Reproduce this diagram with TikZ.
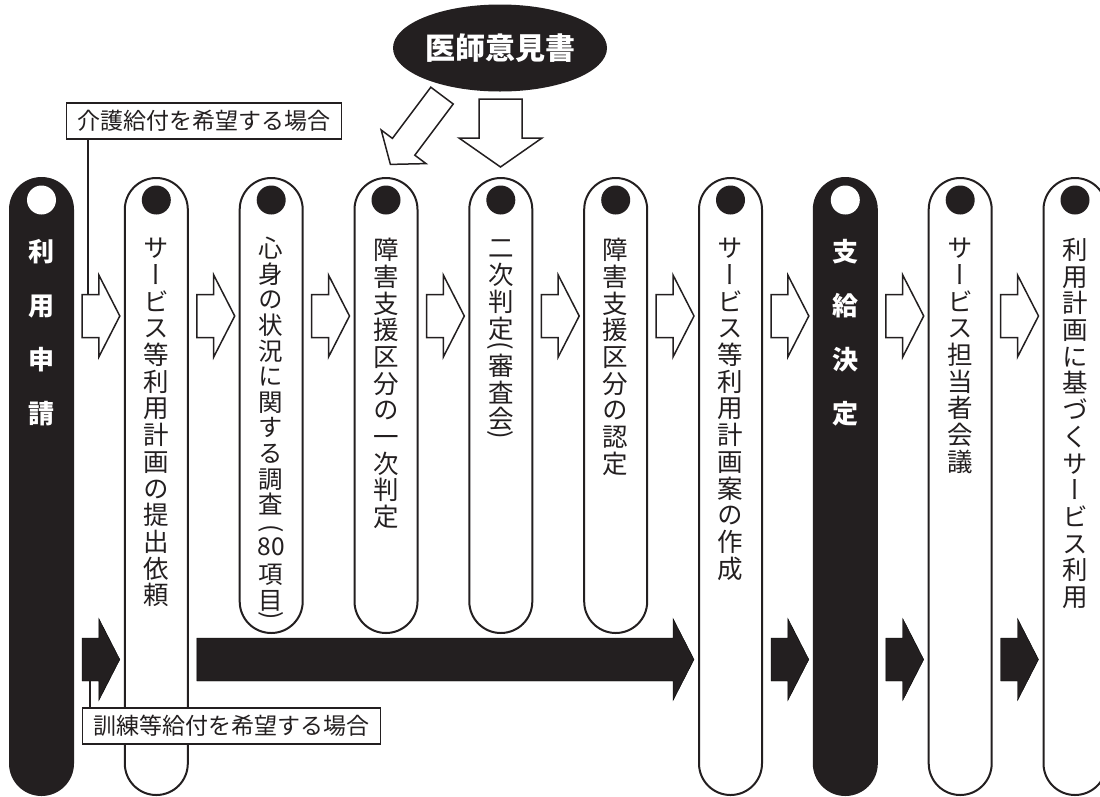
\documentclass[tikz,border=0pt]{standalone}
\usepackage{graphicx}
\usepackage{fontspec}
\setmainfont{Noto Sans CJK JP}
\newfontfamily\jp{Noto Sans CJK JP}
\newfontfamily\vjp[RawFeature=+vert]{Noto Sans CJK JP}
\usetikzlibrary{shapes.geometric,calc}
\definecolor{ink}{RGB}{35,31,32}
\newcommand\vlp{\smash{\rotatebox{-90}{\jp(}}}
\newcommand\vrp{\smash{\rotatebox{-90}{\jp)}}}
\tikzset{
 pill/.style={draw=ink, line width=2pt, fill=white, rounded corners=31.5pt, minimum width=63pt, anchor=north, inner sep=0pt},
 longpill/.style={pill, minimum height=617pt},
 shortpill/.style={pill, minimum height=455pt},
 blackpill/.style={longpill, fill=ink},
 dot/.style={circle, fill=ink, minimum size=29pt, inner sep=0pt},
 wdot/.style={circle, fill=white, minimum size=29pt, inner sep=0pt},
 vt/.style={anchor=north, inner sep=0pt, align=center, text=ink, font=\vjp\fontsize{25.5}{26.7}\selectfont},
 vtb/.style={anchor=north, inner sep=0pt, align=center, text=white, font=\jp\bfseries\fontsize{26}{54}\selectfont},
 lab/.style={draw=ink, line width=1.5pt, fill=white, text=ink, inner xsep=11pt, inner ysep=0pt, minimum height=36pt, font=\jp\fontsize{23}{23}\selectfont},
 warr/.style={draw=ink, line width=1.5pt, fill=white, line join=miter},
 barr/.style={fill=ink},
 link/.style={draw=ink, line width=1.5pt},
}
\newcommand\blockarr[4]{%
 \draw[#1] ($(#2.east |- #4)+(8,-21.5)$) -- ($(#3.west |- #4)+(-25,-21.5)$) -- ++(0,-19.5)
   -- ($(#3.west |- #4)+(-4,0)$) -- ($(#3.west |- #4)+(-25,41)$) -- ++(0,-19.5)
   -- ($(#2.east |- #4)+(8,21.5)$) -- cycle;}
\begin{document}
\begin{tikzpicture}[x=1pt,y=-1pt]
\useasboundingbox (0,0) rectangle (1100,796);
\clip (0,0) rectangle (1100,796);
% pills
\node[blackpill] (p1) at (41.5,177) {};
\node[longpill] (p2) at (156.3,177) {};
\node[shortpill] (p3) at (271.2,177) {};
\node[shortpill] (p4) at (386,177) {};
\node[shortpill] (p5) at (500.8,177) {};
\node[shortpill] (p6) at (615.7,177) {};
\node[longpill] (p7) at (730.5,177) {};
\node[blackpill] (p8) at (845.3,177) {};
\node[longpill] (p9) at (960.2,177) {};
\node[longpill] (p10) at (1075,177) {};
% dots
\node[wdot] (d1) at ($(p1.north)+(0,23)$) {};
\node[wdot] (d8) at ($(p8.north)+(0,23)$) {};
\foreach \i in {2,3,4,5,6,7,9,10} \node[dot] (d\i) at ($(p\i.north)+(0,23)$) {};
% texts
\node[vtb] (t1) at ($(p1.north)+(0,62)$) {利\\用\\申\\請};
\node[vtb] (t8) at ($(p8.north)+(0,62)$) {支\\給\\決\\定};
\node[vt] (t2) at ($(p2.north)+(0,61)$) {サ\\ー\\ビ\\ス\\等\\利\\用\\計\\画\\の\\提\\出\\依\\頼};
\node[vt, font=\vjp\fontsize{24.5}{25.6}\selectfont] (t3) at ($(p3.north)+(0,60)$) {心\\身\\の\\状\\況\\に\\関\\す\\る\\調\\査\\[-15pt]\vlp\\[6pt]80\\[2pt]項\\目\\[-23.5pt]\vrp};
\node[vt] (t4) at ($(p4.north)+(0,61)$) {障\\害\\支\\援\\区\\分\\の\\一\\次\\判\\定};
\node[vt] (t5) at ($(p5.north)+(0,63)$) {二\\次\\判\\定\\[-23pt]\vlp\\[7pt]審\\査\\会\\[-25pt]\vrp};
\node[vt] (t6) at ($(p6.north)+(0,61)$) {障\\害\\支\\援\\区\\分\\の\\認\\定};
\node[vt] (t7) at ($(p7.north)+(0,61)$) {サ\\ー\\ビ\\ス\\等\\利\\用\\計\\画\\案\\の\\作\\成};
\node[vt] (t9) at ($(p9.north)+(0,61)$) {サ\\ー\\ビ\\ス\\担\\当\\者\\会\\議};
\node[vt] (t10) at ($(p10.north)+(0,61)$) {利\\用\\計\\画\\に\\基\\づ\\く\\サ\\ー\\ビ\\ス\\利\\用};
% rows
\coordinate (wrow) at (0,316);
\coordinate (brow) at (0,659.5);
% white arrows
\blockarr{warr}{p1}{p2}{wrow}
\blockarr{warr}{p2}{p3}{wrow}
\blockarr{warr}{p3}{p4}{wrow}
\blockarr{warr}{p4}{p5}{wrow}
\blockarr{warr}{p5}{p6}{wrow}
\blockarr{warr}{p6}{p7}{wrow}
\blockarr{warr}{p7}{p8}{wrow}
\blockarr{warr}{p8}{p9}{wrow}
\blockarr{warr}{p9}{p10}{wrow}
% black arrows
\blockarr{barr}{p1}{p2}{brow}
\blockarr{barr}{p2}{p7}{brow}
\blockarr{barr}{p7}{p8}{brow}
\blockarr{barr}{p8}{p9}{brow}
\blockarr{barr}{p9}{p10}{brow}
% doctor opinion
\node[ellipse, fill=ink, minimum width=214pt, minimum height=87pt, inner sep=0pt, text=white, font=\jp\bfseries\fontsize{30}{30}\selectfont] (doc) at (500,48) {医師意見書};
\draw[warr] (479,99) -- (522,99) -- (522,138) -- (542,138) -- (500.5,167) -- (459,138) -- (479,138) -- cycle;
\draw[warr] (430.8,87.2) -- (453.2,104) -- (414.8,155.2) -- (426,163.6) -- (390.4,164.4) -- (381.2,130) -- (392.4,138.4) -- cycle;
% labels
\coordinate (k1) at ($(p1.east |- wrow)+(14,-21.5)$);
\coordinate (k2) at ($(p1.east |- brow)+(16,21.5)$);
\node[lab] (lab1) at (204,121) {介護給付を希望する場合};
\node[lab] (lab2) at (231.5,726) {訓練等給付を希望する場合};
\draw[link] (lab1.south -| k1) -- (k1);
\draw[link] (lab2.north -| k2) -- (k2);
\end{tikzpicture}
\end{document}
